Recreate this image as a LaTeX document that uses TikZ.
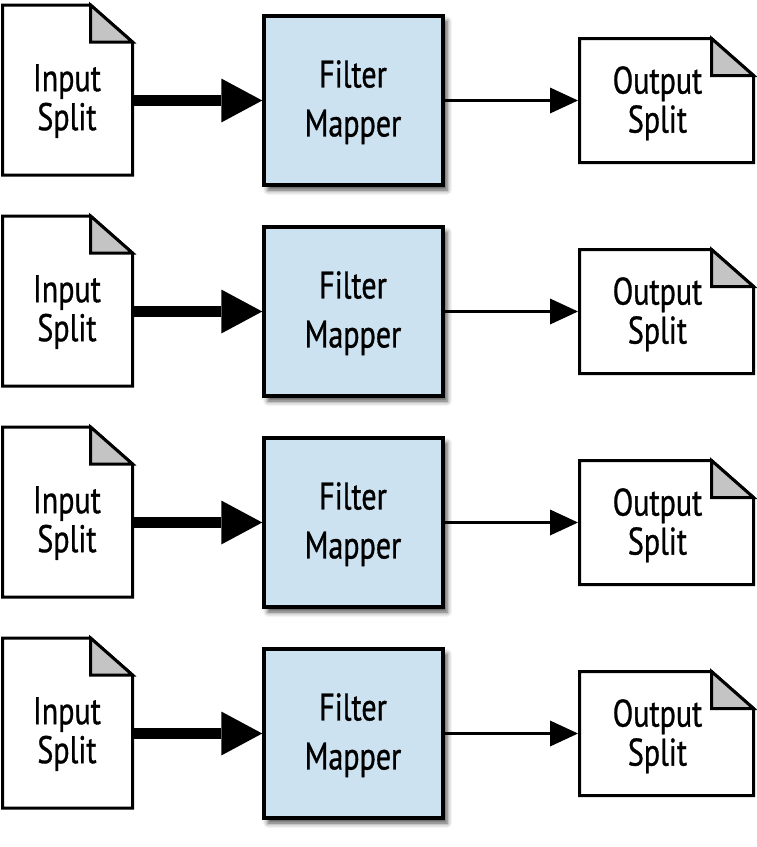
\documentclass[tikz,border=0pt]{standalone}
\usepackage{fontspec}
\setmainfont[FakeStretch=0.78,FakeBold=0.8]{PT Sans}
\usetikzlibrary{arrows.meta,shadows.blur}
\definecolor{mapblue}{HTML}{CDE2F0}
\definecolor{foldgray}{HTML}{C4C4C4}
\begin{document}
\begin{tikzpicture}[x=1pt,y=-1pt,
  docnode/.style={inner sep=0pt,outer sep=0pt},
  docline/.style={draw=black,line width=3pt,line join=miter},
  foldfill/.style={docline,fill=foldgray},
  mapbox/.style={draw=black,line width=3.5pt,fill=mapblue,inner sep=0pt,
    minimum width=179pt,minimum height=169pt,
    blur shadow={shadow xshift=4pt,shadow yshift=-5pt,shadow blur radius=5pt,shadow opacity=70}},
  doctext/.style={anchor=north,inner sep=0pt,align=center,font=\fontsize{38.5}{39}\selectfont},
  maptext/.style={anchor=north,inner sep=0pt,align=center,font=\fontsize{38.5}{49}\selectfont},
  thickarr/.style={line width=11pt,-{Triangle[length=41pt,width=44pt,line width=0pt]}},
  thinarr/.style={line width=3pt,shorten >=1.5pt,-{Triangle[length=28pt,width=26pt,line width=0pt]}}]
\useasboundingbox (0,0) rectangle (757,847);
\foreach \r [evaluate=\r as \dy using 211*(\r-1)] in {1,...,4}{
  % input document
  \node[docnode,minimum width=130pt,minimum height=170pt] (in\r) at (67.5,90+\dy) {};
  \draw[docline] (in\r.north west) -- ([xshift=-42pt]in\r.north east)
    -- ([yshift=-37pt]in\r.north east) -- (in\r.south east) -- (in\r.south west) -- cycle;
  \draw[foldfill] ([xshift=-42pt]in\r.north east) -- ([xshift=-42pt,yshift=-37pt]in\r.north east)
    -- ([yshift=-37pt]in\r.north east) -- cycle;
  \node[doctext] (it\r) at (67,64+\dy) {Input\\Split};
  % filter mapper
  \node[mapbox] (fm\r) at (353.5,100.5+\dy) {};
  \node[maptext] (ft\r) at (353,60+\dy) {Filter\\Mapper};
  % output document
  \node[docnode,minimum width=174pt,minimum height=124pt] (out\r) at (666.5,100.5+\dy) {};
  \draw[docline] (out\r.north west) -- ([xshift=-42pt]out\r.north east)
    -- ([yshift=-37pt]out\r.north east) -- (out\r.south east) -- (out\r.south west) -- cycle;
  \draw[foldfill] ([xshift=-42pt]out\r.north east) -- ([xshift=-42pt,yshift=-37pt]out\r.north east)
    -- ([yshift=-37pt]out\r.north east) -- cycle;
  \node[doctext] (ot\r) at (657.5,66+\dy) {Output\\Split};
  % connectors
  \draw[thickarr] (in\r.east |- fm\r.west) -- (fm\r.west);
  \draw[thinarr] (fm\r.east) -- (out\r.west);
}
\end{tikzpicture}
\end{document}
